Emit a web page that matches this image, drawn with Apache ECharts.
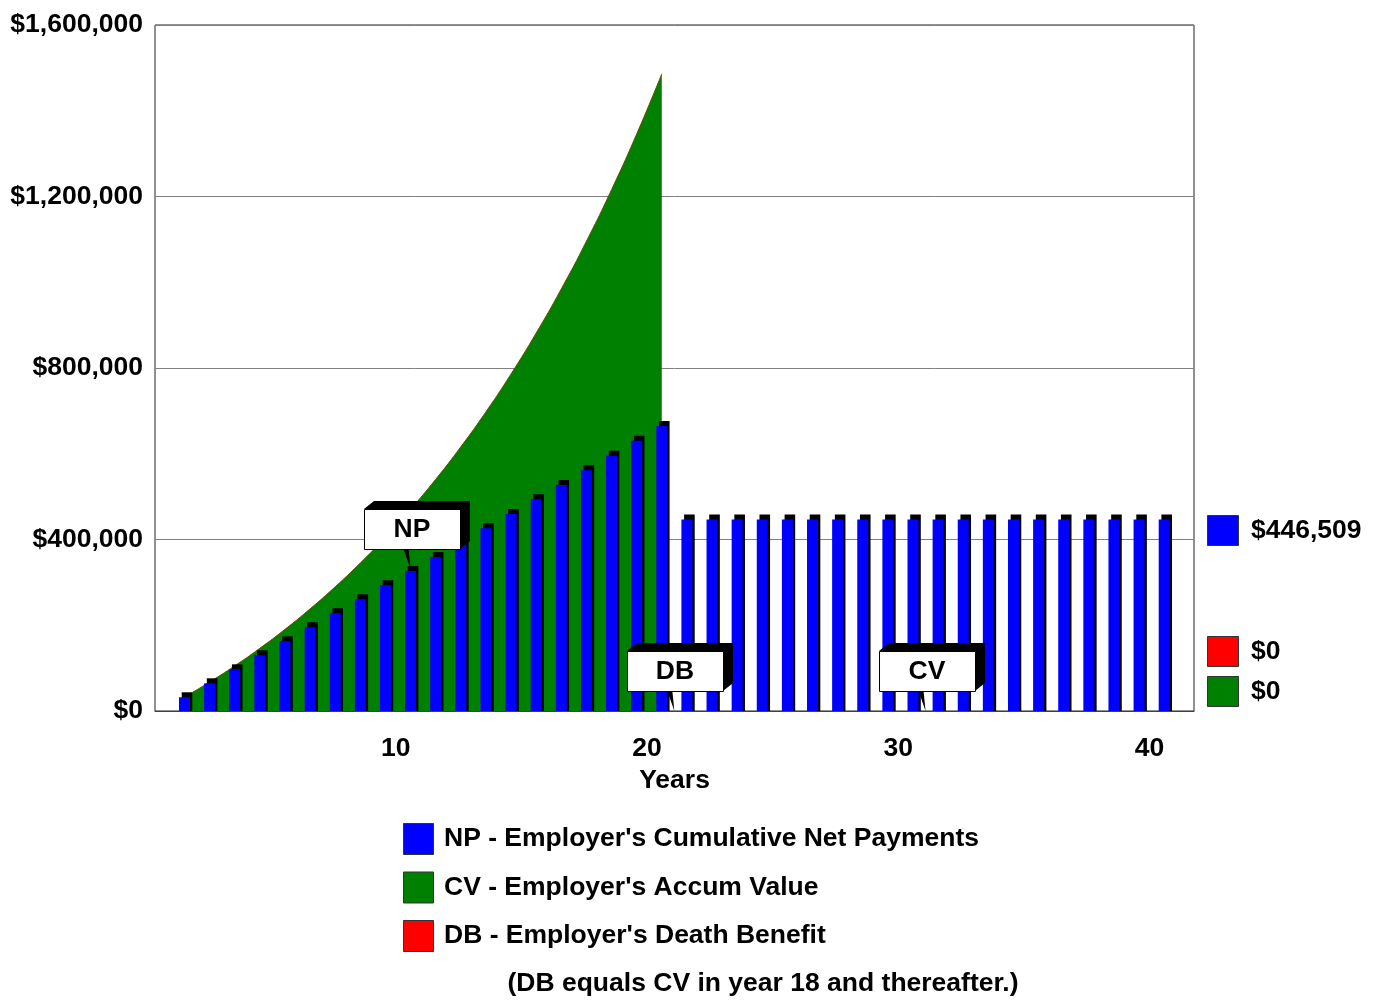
<!DOCTYPE html>
<html>
<head>
<meta charset="utf-8">
<title>Employer's Cumulative Net Payments</title>
<script src="https://cdn.jsdelivr.net/npm/echarts@6/dist/echarts.min.js"></script>
<style>
  html, body { margin: 0; padding: 0; background: #fff; }
  #chart { width: 1379px; height: 1000px; }
</style>
</head>
<body>
<div id="chart"></div>
<script>
// Policy years shown on the horizontal axis
const years = [1, 2, 3, 4, 5, 6, 7, 8, 9, 10, 11, 12, 13, 14, 15, 16, 17, 18, 19, 20,
               21, 22, 23, 24, 25, 26, 27, 28, 29, 30, 31, 32, 33, 34, 35, 36, 37, 38, 39, 40];

// NP - Employer's cumulative net payments by year
const netPayments = [32000, 64600, 97200, 130000, 162500, 195200, 227800, 260500, 293200, 326500,
                     359200, 392500, 426000, 459500, 493700, 527100, 561400, 595500, 630500, 664700,
                     446509, 446509, 446509, 446509, 446509, 446509, 446509, 446509, 446509, 446509,
                     446509, 446509, 446509, 446509, 446509, 446509, 446509, 446509, 446509, 446509];

// CV - Employer's accumulated value by year (rolled out after year 20)
const accumValue = [32500, 67500, 105300, 146300, 190400, 238200, 289700, 345300, 405400, 470300,
                    540400, 616100, 697800, 786100, 881500, 984400, 1095700, 1215800, 1345500, 1485800,
                    0, 0, 0, 0, 0, 0, 0, 0, 0, 0,
                    0, 0, 0, 0, 0, 0, 0, 0, 0, 0];

// DB - Employer's death benefit at the final year
const deathBenefitFinal = 0;

// Axis ticks
const xTickYears = [10, 20, 30, 40];
const yTicks = [0, 400000, 800000, 1200000, 1600000];

// Callouts: label, year and value the pointer lands on
const callouts = [
  { text: 'NP', year: 10, value: netPayments[9], lift: 2 },
  { text: 'DB', year: 20.5, value: 0, lift: 0 },
  { text: 'CV', year: 30.5, value: 0, lift: 0 }
];

const legendItems = [
  { text: "NP - Employer's Cumulative Net Payments", color: '#0000ff' },
  { text: "CV - Employer's Accum Value", color: '#008000' },
  { text: "DB - Employer's Death Benefit", color: '#ff0000' }
];
const footnote = '(DB equals CV in year 18 and thereafter.)';

const FONT = '"Liberation Sans", Arial, sans-serif';
const FS = 26.5;
const money = v => '$' + Math.round(v).toLocaleString('en-US');

const npData = years.map((y, i) => [y, netPayments[i]]);
const cvData = years.map((y, i) => [y, accumValue[i]]).filter(d => d[1] > 0);

const chart = echarts.init(document.getElementById('chart'), null, { renderer: 'canvas' });

chart.setOption({
  animation: false,
  backgroundColor: '#fff',
  grid: {
    left: 155, right: 185, top: 25, bottom: 289,
    show: true, borderColor: '#222', borderWidth: 1, backgroundColor: '#fff'
  },
  xAxis: {
    type: 'value',
    min: -0.174,
    max: 41.186,
    name: 'Years',
    nameLocation: 'middle',
    nameGap: 54,
    nameTextStyle: { fontFamily: FONT, fontWeight: 'bold', fontSize: FS, color: '#000' },
    axisLine: { show: true, onZero: false, lineStyle: { color: '#4a4410', width: 1 } },
    axisTick: { show: false },
    splitLine: { show: false },
    axisLabel: {
      customValues: xTickYears,
      align: 'right',
      margin: 24,
      hideOverlap: false,
      fontFamily: FONT, fontWeight: 'bold', fontSize: FS, color: '#000'
    }
  },
  yAxis: {
    type: 'value',
    min: yTicks[0],
    max: yTicks[yTicks.length - 1],
    interval: yTicks[1] - yTicks[0],
    axisLine: { show: false },
    axisTick: { show: false },
    splitLine: { show: true, lineStyle: { color: '#808080', width: 1 } },
    axisLabel: {
      formatter: v => money(v),
      margin: 12,
      padding: [0, 0, 10, 0],
      fontFamily: FONT, fontWeight: 'bold', fontSize: FS, color: '#000'
    }
  },
  series: [
    {
      name: 'CV',
      type: 'line',
      data: cvData,
      smooth: true,
      symbol: 'none',
      lineStyle: { color: '#6e4a00', width: 1 },
      areaStyle: { color: '#008000', opacity: 1 },
      z: 1
    },
    {
      name: 'NP',
      type: 'custom',
      data: npData,
      z: 3,
      renderItem: (params, api) => {
        const top = api.coord([api.value(0), api.value(1)]);
        const base = api.coord([api.value(0), 0]);
        const w = 11;
        return {
          type: 'group',
          children: [
            { type: 'rect',
              shape: { x: top[0] - w / 2 + 2.7, y: top[1] - 5, width: w - 0.4, height: base[1] - top[1] + 5 },
              style: { fill: '#000' } },
            { type: 'rect',
              shape: { x: top[0] - w / 2, y: top[1], width: w, height: base[1] - top[1] },
              style: { fill: '#0000ff' } }
          ]
        };
      }
    }
  ]
});

// Overlay: callout boxes, end-of-period values, legend and note
function buildGraphics() {
  const g = [];
  const dx = 10, dy = 8, bw = 96, bh = 40;

  callouts.forEach(c => {
    const p = chart.convertToPixel({ gridIndex: 0 }, [c.year, c.value]);
    const tipX = p[0], tipY = p[1] - c.lift;
    const left = Math.round(tipX - 47);
    const bottom = Math.round(tipY - 20);
    const top = bottom - bh;
    const right = left + bw;
    g.push({
      type: 'polygon', z: 10,
      shape: { points: [[left, top], [left + dx, top - dy], [right + dx, top - dy], [right + dx, bottom - dy], [right, bottom], [right, top]] },
      style: { fill: '#000' }
    });
    g.push({
      type: 'polygon', z: 10,
      shape: { points: [[tipX - 7, bottom], [tipX - 2, bottom], [tipX, tipY]] },
      style: { fill: '#000' }
    });
    g.push({
      type: 'rect', z: 11,
      shape: { x: left + 0.5, y: top + 0.5, width: bw, height: bh },
      style: { fill: '#fff', stroke: '#000', lineWidth: 1 }
    });
    g.push({
      type: 'text', z: 12,
      x: left + bw / 2, y: top + bh / 2 + 1,
      style: { text: c.text, fill: '#000', font: 'bold ' + FS + 'px ' + FONT, align: 'center', verticalAlign: 'middle' }
    });
  });

  // values at the final year
  const ends = [
    { value: netPayments[netPayments.length - 1], color: '#0000ff', y: 531 },
    { value: deathBenefitFinal, color: '#ff0000', y: 652 },
    { value: accumValue[accumValue.length - 1], color: '#008000', y: 692 }
  ];
  ends.forEach(e => {
    g.push({ type: 'rect', shape: { x: 1207.5, y: e.y - 15.5, width: 31, height: 30 },
             style: { fill: e.color, stroke: '#333', lineWidth: 1 } });
    g.push({ type: 'text', x: 1251, y: e.y,
             style: { text: money(e.value), fill: '#000', font: 'bold ' + FS + 'px ' + FONT, verticalAlign: 'middle' } });
  });

  // legend
  legendItems.forEach((it, i) => {
    const cy = 839 + i * 48.5;
    g.push({ type: 'rect', shape: { x: 403.5, y: cy - 15.5, width: 30, height: 31 },
             style: { fill: it.color, stroke: '#333', lineWidth: 1 } });
    g.push({ type: 'text', x: 444, y: cy,
             style: { text: it.text, fill: '#000', font: 'bold ' + FS + 'px ' + FONT, verticalAlign: 'middle' } });
  });

  g.push({ type: 'text', x: 763, y: 984,
           style: { text: footnote, fill: '#000', font: 'bold ' + FS + 'px ' + FONT, align: 'center', verticalAlign: 'middle' } });
  return g;
}

chart.setOption({ graphic: buildGraphics() });
</script>
</body>
</html>
